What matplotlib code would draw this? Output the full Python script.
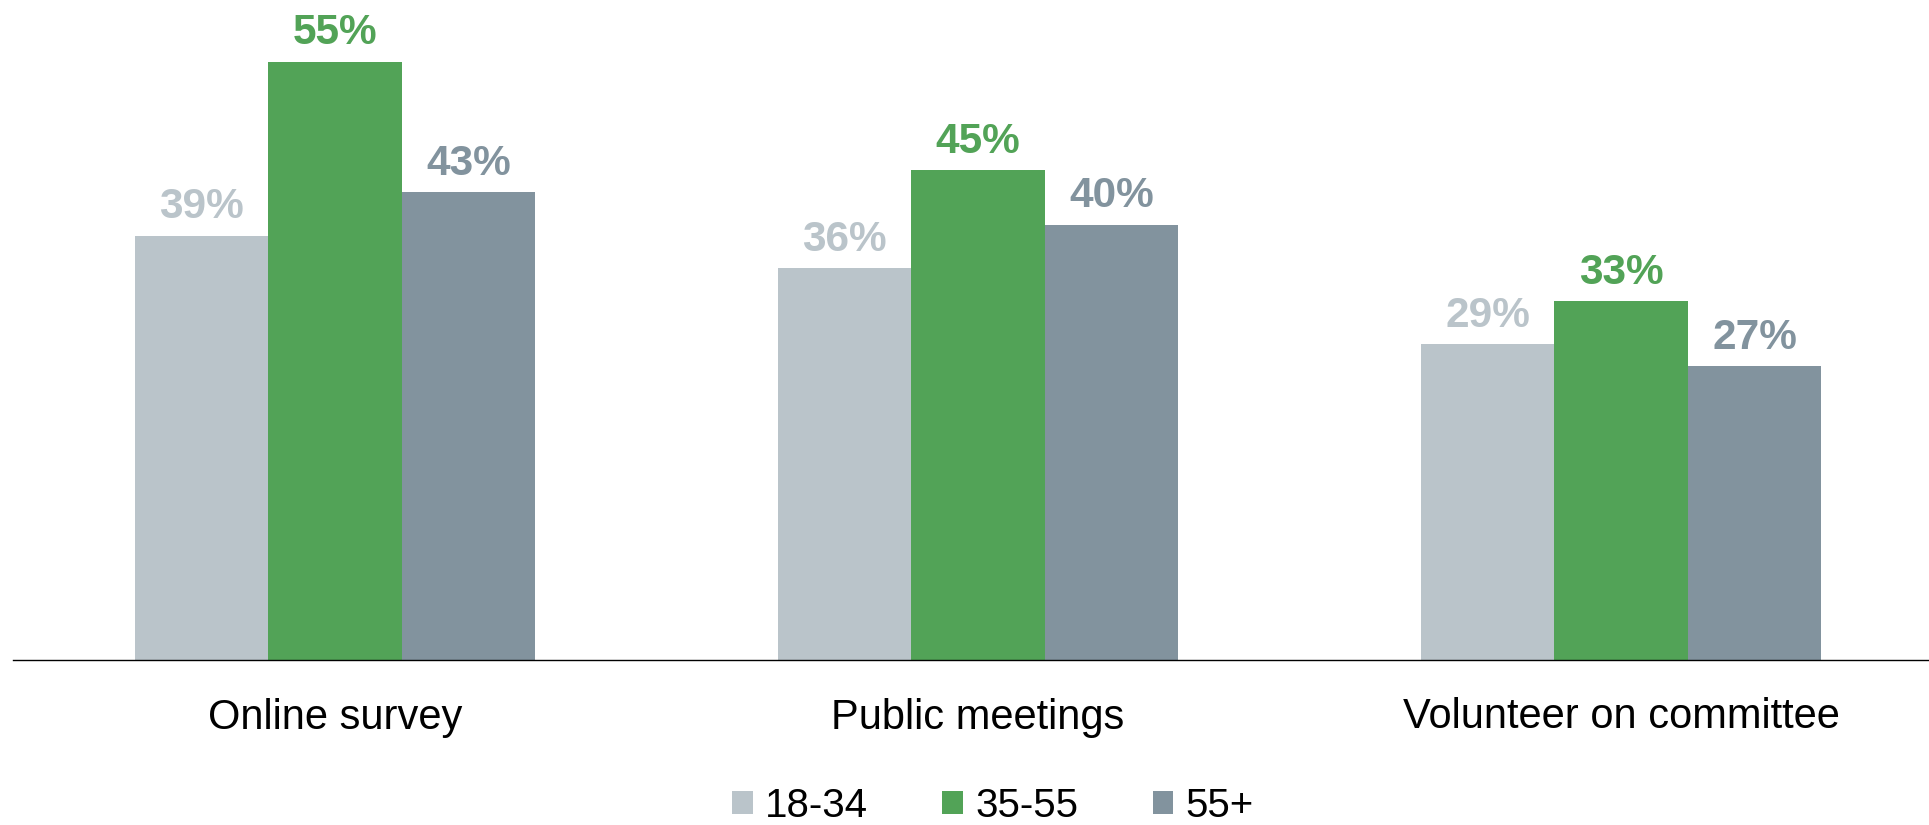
import matplotlib
matplotlib.use("Agg")
import matplotlib.pyplot as plt
import numpy as np

categories = ["Online survey", "Public meetings", "Volunteer on committee"]
series_names = ["18-34", "35-55", "55+"]
values_18_34 = [39, 36, 29]
values_35_55 = [55, 45, 33]
values_55_plus = [43, 40, 27]
colors = ["#BAC4CA", "#52A357", "#82939E"]

plt.rcParams['font.family'] = ['Liberation Sans', 'DejaVu Sans']

W, H = 1929, 825
fig = plt.figure(figsize=(W / 100, H / 100), dpi=100)
ax = fig.add_axes([13 / W, (H - 660) / H, 1 - 13 / W, 660 / H])

x = np.arange(len(categories))
width = 0.2076
series = [values_18_34, values_35_55, values_55_plus]
handles = []
for i, (vals, name, col) in enumerate(zip(series, series_names, colors)):
    pos = x + (i - 1) * width
    b = ax.bar(pos, vals, width=width, color=col, label=name, linewidth=0)
    handles.append(b)
    for px, v in zip(pos, vals):
        ax.annotate(f"{v}%", xy=(px, v), xytext=(0, 12.5), textcoords="offset points",
                    ha="center", va="baseline", fontsize=30.5, fontweight="bold", color=col)

ax.set_xlim(-0.5008, 2.479)
ax.set_ylim(0, 60.66)
ax.set_xticks(x)
ax.set_xticklabels(categories, fontsize=30)
ax.tick_params(axis="x", length=0, pad=27)
ax.set_yticks([])
for s in ["top", "right", "left"]:
    ax.spines[s].set_visible(False)
ax.spines["bottom"].set_color("black")
ax.spines["bottom"].set_linewidth(1.0)

leg = fig.legend(handles=handles, labels=series_names, loc="center",
                 bbox_to_anchor=(993 / W, 1 - 806 / H), ncol=3, frameon=False,
                 fontsize=29, handlelength=0.52, handleheight=0.52,
                 handletextpad=0.3, columnspacing=1.84, borderpad=0, borderaxespad=0)

fig.savefig("out.png", dpi=100)
